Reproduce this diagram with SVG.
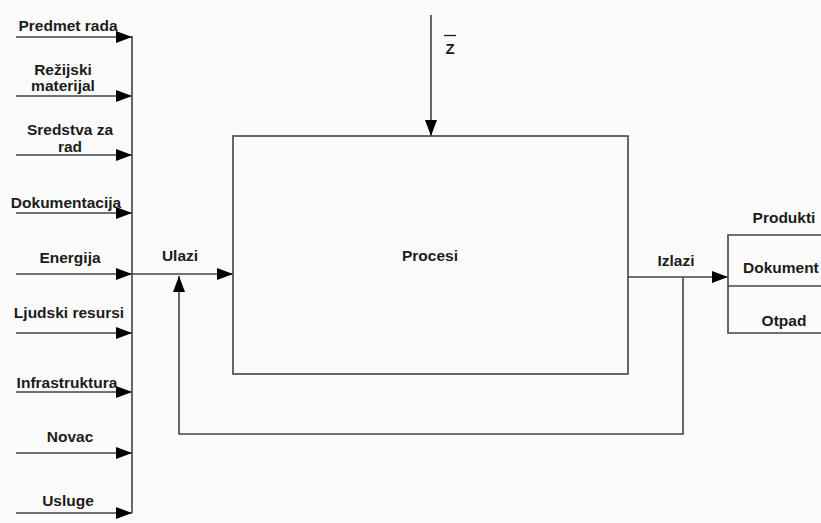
<svg xmlns="http://www.w3.org/2000/svg" width="821" height="523" viewBox="0 0 821 523">
<style>
.ln{stroke:#444;stroke-width:1.6;fill:none}
.t{font-family:"Liberation Sans",Arial,sans-serif;font-weight:bold;font-size:15.5px;fill:#1c1c1c}
.c{text-anchor:middle}
</style>
<defs>
<marker id="ah" markerUnits="userSpaceOnUse" markerWidth="18" markerHeight="12" refX="16" refY="6" orient="auto">
<path d="M0,0 L16,6 L0,12 Z" fill="#000"/>
</marker>
</defs>
<rect width="821" height="523" fill="#fbfbfb"/>
<g id="connectors">
<line class="ln" x1="132" y1="36" x2="132" y2="513"/>
<line class="ln" x1="16" y1="37" x2="132" y2="37" marker-end="url(#ah)"/>
<line class="ln" x1="16" y1="96" x2="132" y2="96" marker-end="url(#ah)"/>
<line class="ln" x1="16" y1="155" x2="132" y2="155" marker-end="url(#ah)"/>
<line class="ln" x1="16" y1="213" x2="132" y2="213" marker-end="url(#ah)"/>
<line class="ln" x1="16" y1="274" x2="132" y2="274" marker-end="url(#ah)"/>
<line class="ln" x1="16" y1="333" x2="132" y2="333" marker-end="url(#ah)"/>
<line class="ln" x1="16" y1="392" x2="132" y2="392" marker-end="url(#ah)"/>
<line class="ln" x1="16" y1="453" x2="132" y2="453" marker-end="url(#ah)"/>
<line class="ln" x1="16" y1="513" x2="132" y2="513" marker-end="url(#ah)"/>
<line class="ln" x1="132" y1="274" x2="233" y2="274" marker-end="url(#ah)"/>
<line class="ln" x1="431" y1="15" x2="431" y2="136" marker-end="url(#ah)"/>
<line class="ln" x1="628" y1="277" x2="728" y2="277" marker-end="url(#ah)"/>
<polyline class="ln" points="683,277 683,434 179,434 179,276" marker-end="url(#ah)"/>
</g>
<g id="procesi">
<rect class="ln" x="233" y="136" width="395" height="238"/>
<text class="t c" x="430" y="261">Procesi</text>
</g>
<g id="izlazi-box">
<polyline class="ln" points="822,235 728,235 728,333 822,333"/>
<line class="ln" x1="728" y1="286" x2="822" y2="286"/>
<text class="t c" x="784" y="223">Produkti</text>
<text class="t" x="743" y="273">Dokument</text>
<text class="t c" x="784" y="326">Otpad</text>
</g>
<g id="labels">
<text class="t c" x="68" y="31">Predmet rada</text>
<text class="t c" x="63" y="75">Režijski</text>
<text class="t c" x="63" y="91">materijal</text>
<text class="t c" x="70" y="135">Sredstva za</text>
<text class="t c" x="70" y="152">rad</text>
<text class="t c" x="66" y="208">Dokumentacija</text>
<text class="t c" x="70" y="263">Energija</text>
<text class="t c" x="69" y="318">Ljudski resursi</text>
<text class="t c" x="67" y="388">Infrastruktura</text>
<text class="t c" x="70" y="442">Novac</text>
<text class="t c" x="68" y="506">Usluge</text>
<text class="t c" x="180" y="261">Ulazi</text>
<text class="t c" x="676" y="266">Izlazi</text>
<text x="450" y="54" style="font-family:'Liberation Sans',Arial,sans-serif;font-weight:bold;font-size:15px;fill:#1c1c1c;text-anchor:middle">Z</text>
<line x1="444" y1="35.5" x2="456" y2="35.5" stroke="#1c1c1c" stroke-width="1.3"/>
</g>
</svg>
